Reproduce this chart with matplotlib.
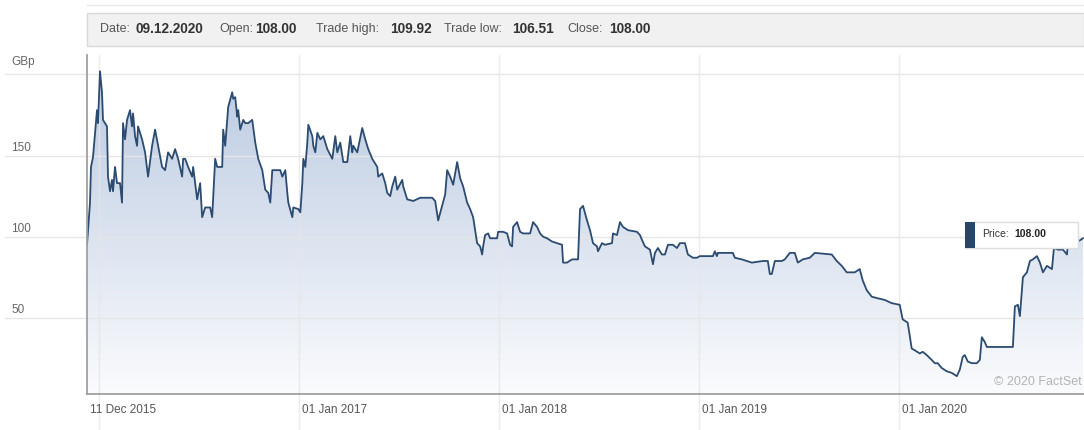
import numpy as np
import matplotlib
matplotlib.use("Agg")
import matplotlib.pyplot as plt
import matplotlib.dates as mdates
from matplotlib.patches import Rectangle
from datetime import datetime, timedelta

plt.rcParams['font.family'] = ['Liberation Sans', 'DejaVu Sans']

# price history (decimal year, GBp)
years = [2015.94, 2015.955, 2015.96, 2015.97, 2015.99, 2015.995, 2016.005, 2016.015, 2016.02, 2016.04,
         2016.045, 2016.055, 2016.065, 2016.07, 2016.08, 2016.09, 2016.105, 2016.115, 2016.12, 2016.13,
         2016.14, 2016.155, 2016.165, 2016.17, 2016.18, 2016.19, 2016.195, 2016.205, 2016.215, 2016.23,
         2016.245, 2016.265, 2016.28, 2016.295, 2016.315, 2016.33, 2016.345, 2016.365, 2016.38, 2016.395,
         2016.415, 2016.42, 2016.43, 2016.445, 2016.465, 2016.47, 2016.49, 2016.505, 2016.515, 2016.53,
         2016.555, 2016.565, 2016.58, 2016.59, 2016.615, 2016.62, 2016.63, 2016.645, 2016.665, 2016.67,
         2016.68, 2016.69, 2016.695, 2016.705, 2016.72, 2016.73, 2016.745, 2016.765, 2016.78, 2016.795,
         2016.815, 2016.83, 2016.845, 2016.855, 2016.865, 2016.905, 2016.915, 2016.93, 2016.94, 2016.945,
         2016.965, 2016.97, 2016.995, 2017.005, 2017.015, 2017.02, 2017.03, 2017.04, 2017.045, 2017.065,
         2017.07, 2017.08, 2017.09, 2017.105, 2017.12, 2017.14, 2017.165, 2017.18, 2017.19, 2017.205,
         2017.22, 2017.24, 2017.255, 2017.265, 2017.27, 2017.29, 2017.315, 2017.33, 2017.345, 2017.365,
         2017.39, 2017.395, 2017.415, 2017.43, 2017.44, 2017.455, 2017.465, 2017.48, 2017.49, 2017.515,
         2017.52, 2017.54, 2017.57, 2017.605, 2017.665, 2017.68, 2017.695, 2017.715, 2017.73, 2017.74,
         2017.755, 2017.77, 2017.79, 2017.805, 2017.82, 2017.84, 2017.855, 2017.87, 2017.88, 2017.89,
         2017.905, 2017.915, 2017.92, 2017.93, 2017.945, 2017.955, 2017.99, 2017.995, 2018.02, 2018.04,
         2018.055, 2018.065, 2018.07, 2018.09, 2018.105, 2018.12, 2018.155, 2018.17, 2018.19, 2018.205,
         2018.22, 2018.24, 2018.265, 2018.29, 2018.315, 2018.32, 2018.34, 2018.365, 2018.395, 2018.405,
         2018.42, 2018.44, 2018.455, 2018.47, 2018.49, 2018.495, 2018.515, 2018.53, 2018.565, 2018.57,
         2018.59, 2018.605, 2018.62, 2018.645, 2018.69, 2018.705, 2018.715, 2018.73, 2018.755, 2018.77,
         2018.78, 2018.795, 2018.815, 2018.83, 2018.845, 2018.87, 2018.89, 2018.905, 2018.93, 2018.945,
         2018.97, 2018.99, 2019.005, 2019.07, 2019.08, 2019.09, 2019.095, 2019.17, 2019.18, 2019.215,
         2019.24, 2019.265, 2019.32, 2019.345, 2019.355, 2019.365, 2019.38, 2019.415, 2019.43, 2019.455,
         2019.48, 2019.495, 2019.52, 2019.555, 2019.58, 2019.665, 2019.69, 2019.715, 2019.74, 2019.78,
         2019.805, 2019.82, 2019.84, 2019.865, 2019.895, 2019.93, 2019.965, 2020.005, 2020.02, 2020.045,
         2020.065, 2020.08, 2020.105, 2020.12, 2020.14, 2020.165, 2020.18, 2020.195, 2020.215, 2020.24,
         2020.265, 2020.29, 2020.305, 2020.32, 2020.33, 2020.345, 2020.365, 2020.39, 2020.405, 2020.415,
         2020.43, 2020.44, 2020.57, 2020.58, 2020.595, 2020.605, 2020.62, 2020.64, 2020.655, 2020.67,
         2020.69, 2020.705, 2020.72, 2020.74, 2020.765, 2020.775, 2020.795, 2020.82, 2020.84, 2020.845,
         2020.855, 2020.87, 2020.895, 2020.92]
prices = [95, 121, 143, 149, 178, 170, 202, 189, 172, 168,
          137, 128, 135, 128, 143, 133, 133, 121, 170, 160,
          172, 178, 168, 176, 162, 156, 168, 164, 160, 152,
          137, 156, 166, 156, 143, 141, 152, 148, 154, 148,
          137, 148, 148, 143, 137, 143, 123, 133, 112, 118,
          118, 112, 148, 143, 143, 166, 156, 180, 189, 185,
          186, 174, 178, 166, 172, 170, 170, 172, 158, 148,
          141, 129, 127, 121, 141, 141, 137, 141, 127, 121,
          112, 118, 117, 115, 133, 148, 143, 158, 169, 162,
          156, 152, 164, 160, 162, 154, 148, 162, 152, 158,
          146, 146, 162, 152, 156, 152, 167, 160, 154, 148,
          143, 137, 139, 133, 127, 125, 131, 137, 129, 135,
          131, 123, 122, 124, 124, 122, 110, 119, 126, 141,
          137, 132, 146, 136, 131, 121, 117, 112, 104, 96,
          94, 89, 94, 101, 102, 99, 99, 103, 103, 102,
          95, 94, 106, 109, 103, 102, 102, 109, 106, 102,
          100, 99, 97, 96, 95, 84, 84, 86, 86, 117,
          119, 110, 104, 96, 94, 91, 96, 95, 96, 102,
          101, 109, 106, 104, 103, 101, 98, 94, 92, 83,
          90, 93, 89, 89, 95, 95, 93, 96, 96, 89,
          87, 87, 88, 88, 91, 88, 90, 90, 87, 86,
          85, 84, 85, 85, 77, 77, 85, 85, 86, 90,
          90, 84, 86, 87, 90, 89, 85, 82, 78, 78,
          80, 73, 67, 63, 62, 61, 59, 58, 49, 47,
          31, 30, 28, 29, 27, 24, 22, 22, 19, 17,
          16, 14, 18, 26, 27, 23, 22, 22, 24, 38,
          35, 32, 32, 57, 58, 51, 75, 78, 85, 86,
          88, 84, 78, 82, 80, 93, 92, 92, 89, 96,
          102, 98, 97, 99]

y_ticks = [50, 100, 150]
y_tick_labels = ['50', '100', '150']
x_grid_years = [2016, 2017, 2018, 2019, 2020]
x_labels = ['11 Dec 2015', '01 Jan 2017', '01 Jan 2018', '01 Jan 2019', '01 Jan 2020']
x_label_years = [2015.94, 2017.0, 2018.0, 2019.0, 2020.0]
header = [("Date:", "09.12.2020"), ("Open:", "108.00"), ("Trade high:", "109.92"),
          ("Trade low:", "106.51"), ("Close:", "108.00")]
last_price = "108.00"


def to_num(yr):
    y0 = int(np.floor(yr))
    d0 = datetime(y0, 1, 1)
    span = (datetime(y0 + 1, 1, 1) - d0).days
    return mdates.date2num(d0 + timedelta(days=(yr - y0) * span))


xs = np.array([to_num(y) for y in years])
ps = np.array(prices, dtype=float)

W, H = 1084, 430
fig = plt.figure(figsize=(W / 100, H / 100), dpi=100)
fig.patch.set_facecolor('white')

ax_l, ax_r, ax_t, ax_b = 87, 1084, 55, 394
ax = fig.add_axes([ax_l / W, 1 - ax_b / H, (ax_r - ax_l) / W, (ax_b - ax_t) / H])
xmin, xmax = to_num(2015.94), to_num(2020.925)
ymin, ymax = 3, 212
ax.set_xlim(xmin, xmax)
ax.set_ylim(ymin, ymax)

# gradient fill under the line
grad = np.linspace(0, 1, 256)[:, None]
top_c = np.array([184, 200, 224]) / 255
bot_c = np.array([250, 251, 253]) / 255
img = top_c[None, None, :] * (1 - grad[:, :, None]) + bot_c[None, None, :] * grad[:, :, None]
poly = ax.fill_between(xs, ps, ymin, color='none', lw=0)
im = ax.imshow(img, extent=[xmin, xmax, ymin, ymax], aspect='auto', zorder=1, origin='upper')
im.set_clip_path(poly.get_paths()[0], transform=ax.transData)

ax.plot(xs, ps, color='#2c4b71', lw=1.3, zorder=4, solid_joinstyle='round')

# grid lines extending into the label areas
grid_c = '#e6e6e6'
left_ext = -(ax_l - 5) / (ax_r - ax_l)
for v in [50, 100, 150, 200]:
    ax.axhline(v, xmin=left_ext, xmax=1, color=grid_c, lw=1, zorder=2, clip_on=False)
bot_ext = -(H - ax_b) / (ax_b - ax_t)
for yr in x_grid_years:
    ax.axvline(to_num(yr), ymin=bot_ext, ymax=1, color=grid_c, lw=1, zorder=2,
               clip_on=False, alpha=0.8)

for s in ['top', 'right']:
    ax.spines[s].set_visible(False)
for s in ['left', 'bottom']:
    ax.spines[s].set_color('#a0a0a0')
    ax.spines[s].set_linewidth(1.3)
    ax.spines[s].set_zorder(5)
ax.set_xticks([])
ax.set_yticks([])

lab_x = -(ax_l - 11) / (ax_r - ax_l)
for v, t in zip(y_ticks, y_tick_labels):
    ax.text(lab_x, v + 1.2, t, transform=ax.get_yaxis_transform(), ha='left', va='bottom',
            fontsize=8.5, color='#666666')
fig.text(11 / W, 1 - 62 / H, 'GBp', ha='left', va='center', fontsize=8.5, color='#666666')

for yr, t in zip(x_label_years, x_labels):
    fig.text((ax.transData.transform((to_num(yr), 0))[0] + 3) / W, 1 - 410 / H, t,
             ha='left', va='center', fontsize=8.5, color='#555555')

# header bar
fig.add_artist(plt.Line2D([ax_l / W, 1], [1 - 5 / H, 1 - 5 / H], color='#e8e8e8', lw=1))
hdr = Rectangle((ax_l / W, 1 - 46 / H), (ax_r - ax_l) / W, 33 / H, transform=fig.transFigure,
                facecolor='#f1f1f1', edgecolor='#d8d8d8', lw=1)
fig.add_artist(hdr)
label_x = [100, 219, 316, 444, 567]
value_x = [136, 255, 390, 512, 609]
for (lab, val), lx, vx in zip(header, label_x, value_x):
    fig.text(lx / W, 1 - 29 / H, lab, ha='left', va='center', fontsize=9, color='#555555')
    fig.text(vx / W, 1 - 29 / H, val, ha='left', va='center', fontsize=9.8, color='#333333',
             fontweight='bold')

# price tag
tag = Rectangle((965 / W, 1 - 248 / H), 113 / W, 26 / H, transform=fig.transFigure,
                facecolor='white', edgecolor='#dddddd', lw=1, zorder=10)
fig.add_artist(tag)
fig.add_artist(Rectangle((965 / W, 1 - 248 / H), 10 / W, 26 / H, transform=fig.transFigure,
                         facecolor='#27466b', edgecolor='none', zorder=11))
fig.text(982 / W, 1 - 234 / H, 'Price:', ha='left', va='center', fontsize=7.5, color='#333333',
         zorder=12)
fig.text(1014 / W, 1 - 234 / H, last_price, ha='left', va='center', fontsize=7.5,
         color='#222222', fontweight='bold', zorder=12)

fig.text(1082 / W, 1 - 382 / H, '\u00a9 2020 FactSet', ha='right', va='center', fontsize=9,
         color='#b4b4b4')

fig.savefig('out.png', dpi=100)
